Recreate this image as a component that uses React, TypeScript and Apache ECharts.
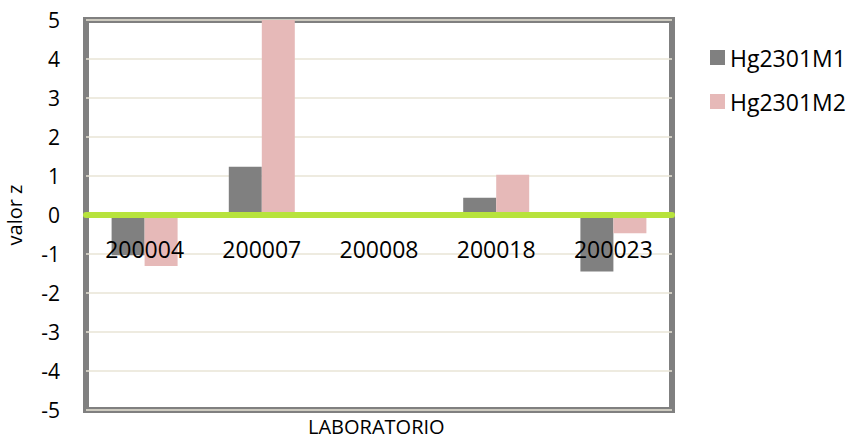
import React, { useEffect, useRef } from "react";
import * as echarts from "echarts";

const categories = ["200004", "200007", "200008", "200018", "200023"];
const seriesNames = ["Hg2301M1", "Hg2301M2"];
const m1Values = [-1.03, 1.24, 0, 0.44, -1.45];
const m2Values = [-1.31, 5.0, 0, 1.03, -0.47];
const yMin = -5;
const yMax = 5;
const yStep = 1;

const FONT = "'Open Sans', 'Liberation Sans', sans-serif";

export default function App() {
  const ref = useRef<HTMLDivElement>(null);
  useEffect(() => {
    document.body.style.margin = "0";
    if (!ref.current) return;
    const chart = echarts.init(ref.current, undefined, { renderer: "svg" });
    chart.setOption({
      animation: false,
      backgroundColor: "#ffffff",
      textStyle: { fontFamily: FONT },
      title: {
        text: "LABORATORIO",
        left: 308,
        top: 416,
        padding: 0,
        textStyle: { color: "#000", fontFamily: FONT, fontSize: 20, fontWeight: "normal" },
      },
      grid: {
        left: 86,
        right: 178,
        top: 20,
        bottom: 29,
        outerBoundsMode: "none",
        containLabel: false,
        show: true,
        borderColor: "#808080",
        borderWidth: 6,
        backgroundColor: "transparent",
      },
      legend: {
        orient: "vertical",
        left: 705,
        top: 41,
        itemWidth: 15,
        itemHeight: 15,
        itemGap: 21,
        icon: "rect",
        data: seriesNames,
        textStyle: {
          fontFamily: FONT,
          fontSize: 23,
          color: "#000",
          lineHeight: 23,
          padding: [0, 0, 0, 0],
        },
      },
      xAxis: {
        type: "category",
        data: categories,
        z: 5,
        axisLine: {
          show: true,
          onZero: true,
          lineStyle: { color: "#b7e33c", width: 6 },
        },
        axisTick: { show: false },
        axisLabel: { show: false },
        splitLine: { show: false },
      },
      yAxis: {
        type: "value",
        min: yMin,
        max: yMax,
        interval: yStep,
        name: "valor z",
        nameLocation: "middle",
        nameGap: 62,
        nameRotate: 90,
        nameTextStyle: { color: "#000", fontFamily: FONT, fontSize: 20 },
        axisLine: { show: false },
        axisTick: { show: false },
        axisLabel: {
          color: "#000",
          fontFamily: FONT,
          fontSize: 21,
          margin: 26,
        },
        splitLine: { show: true, lineStyle: { color: "#e9e5d6", width: 1.5 } },
      },
      series: [
        {
          name: seriesNames[0],
          type: "bar",
          data: m1Values,
          barWidth: 33,
          barGap: "0%",
          itemStyle: { color: "#808080" },
        },
        {
          name: seriesNames[1],
          type: "bar",
          data: m2Values,
          barWidth: 33,
          barGap: "0%",
          itemStyle: { color: "#e6b9b8" },
        },
        {
          name: "categoryLabels",
          type: "scatter",
          data: categories.map((c) => [c, 0]),
          symbolSize: 0,
          z: 10,
          silent: true,
          label: {
            show: true,
            position: "bottom",
            distance: 22,
            formatter: (p: any) => p.value[0],
            color: "#000",
            opacity: 1,
            textBorderWidth: 0,
            fontFamily: FONT,
            fontSize: 23,
            fontWeight: "normal",
          },
        },
      ],
    });
    return () => chart.dispose();
  }, []);
  return <div ref={ref} style={{ width: 850, height: 439 }} />;
}
